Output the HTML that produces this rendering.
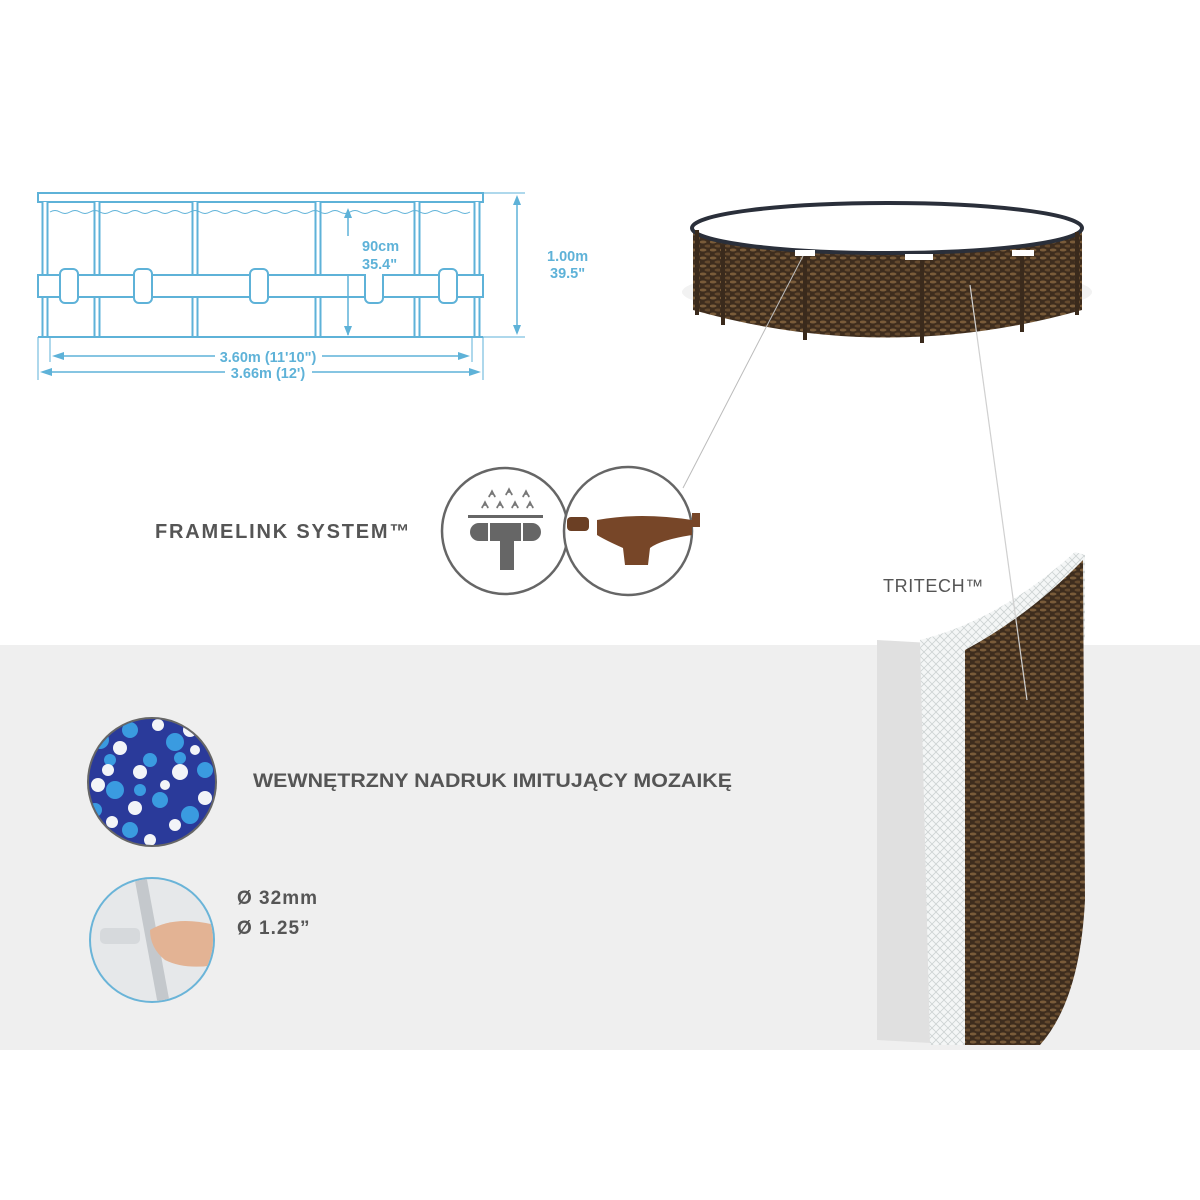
<!DOCTYPE html>
<html><head><meta charset="utf-8"><style>
html,body{margin:0;padding:0;background:#fff}
svg{display:block}
</style></head><body>
<svg width="1200" height="1200" viewBox="0 0 1200 1200" xmlns="http://www.w3.org/2000/svg">
<defs>
<pattern id="wick" width="10" height="8" patternUnits="userSpaceOnUse">
<rect width="10" height="8" fill="#3e2d1e"/>
<ellipse cx="3" cy="2" rx="3.5" ry="1.5" fill="#7a5c3a"/>
<ellipse cx="8" cy="6" rx="3.5" ry="1.5" fill="#654a2e"/>
</pattern>
<pattern id="mesh" width="8" height="8" patternUnits="userSpaceOnUse">
<rect width="8" height="8" fill="#f4f6f6"/>
<path d="M0 8L8 0M0 0L8 8" stroke="#cdd3d3" stroke-width="0.8"/>
</pattern>
<clipPath id="mc"><circle cx="152" cy="782" r="63"/></clipPath>
<clipPath id="hc"><circle cx="152" cy="940" r="61"/></clipPath>
</defs>

<rect x="0" y="645" width="1200" height="405" fill="#efefef"/>

<!-- technical drawing -->
<g stroke="#5eb2d8" stroke-width="2" fill="#fff">
<rect x="38" y="193" width="445" height="9"/>
<path d="M45 202V337M97 202V337M195 202V337M318 202V337M417 202V337M477 202V337" stroke-width="7"/>
<path d="M45 202V337M97 202V337M195 202V337M318 202V337M417 202V337M477 202V337" stroke="#fff" stroke-width="3"/>
<path d="M50 212q5 -3 10 0t10 0t10 0t10 0t10 0t10 0t10 0t10 0t10 0t10 0t10 0t10 0t10 0t10 0t10 0t10 0t10 0t10 0t10 0t10 0t10 0t10 0t10 0t10 0t10 0t10 0t10 0t10 0t10 0t10 0t10 0t10 0t10 0t10 0t10 0t10 0t10 0t10 0t10 0t10 0t10 0t10 0" fill="none" stroke-width="1"/>
<rect x="38" y="275" width="445" height="22"/>
<rect x="60" y="269" width="18" height="34" rx="5"/>
<rect x="134" y="269" width="18" height="34" rx="5"/>
<rect x="250" y="269" width="18" height="34" rx="5"/>
<rect x="365" y="269" width="18" height="34" rx="5"/>
<rect x="439" y="269" width="18" height="34" rx="5"/>
<path d="M38 337H483" />
<path d="M38 337V380M483 337V380M50 337V362M472 337V362M483 193H525M483 337H525" stroke-width="1" fill="none"/>
<path d="M517 198V332M348 210V335M55 356H215M322 356H467M45 372H225M312 372H476" stroke-width="1.5" fill="none"/>
</g>
<g fill="#5eb2d8">
<path d="M517 195l-4 10h8z M517 335l-4 -10h8z M348 208l-4 10h8z M348 336l-4 -10h8z M52 356l12 -4v8z M470 356l-12 -4v8z M40 372l12 -4v8z M481 372l-12 -4v8z"/>
</g>
<rect x="340" y="236" width="65" height="38" fill="#fff"/>
<rect x="540" y="240" width="65" height="38" fill="#fff"/>
<g font-family="Liberation Sans, sans-serif" font-weight="bold" fill="#5eb2d8" font-size="14.5">
<text x="362" y="251">90cm</text><text x="362" y="269">35.4"</text>
<text x="547" y="261">1.00m</text><text x="550" y="278">39.5"</text>
<text x="268" y="362" text-anchor="middle">3.60m (11'10")</text>
<text x="268" y="378" text-anchor="middle">3.66m (12')</text>
</g>

<!-- pool -->
<ellipse cx="887" cy="292" rx="205" ry="26" fill="#f2f2f2"/>
<path d="M693 230 L693 310 Q887 365 1082 310 L1082 230 Z" fill="url(#wick)"/>
<ellipse cx="887" cy="228" rx="195" ry="25" fill="#fff" stroke="#2a2f3a" stroke-width="4"/>
<g stroke="#3a2a1c" stroke-width="4">
<path d="M697 230V315M723 245V325M805 255V340M922 258V343M1022 252V332M1077 232V315"/>
</g>
<g fill="#fff">
<rect x="795" y="250" width="20" height="6"/><rect x="905" y="254" width="28" height="6"/><rect x="1012" y="250" width="22" height="6"/>
</g>
<path d="M803 256L683 488" stroke="#bbb" stroke-width="1"/>

<!-- framelink circles -->
<circle cx="505" cy="531" r="63" fill="#fff" stroke="#666" stroke-width="2.5"/>
<circle cx="628" cy="531" r="64" fill="#fff" stroke="#666" stroke-width="2.5"/>
<rect x="468" y="515" width="75" height="3" fill="#666"/>
<rect x="470" y="523" width="71" height="18" rx="9" fill="#666"/>
<line x1="489" y1="523" x2="489" y2="541" stroke="#fff" stroke-width="2"/>
<line x1="522" y1="523" x2="522" y2="541" stroke="#fff" stroke-width="2"/>
<rect x="500" y="541" width="14" height="29" fill="#666"/>
<g fill="none" stroke="#777" stroke-width="1.6">
<path d="M482 508a3 3 0 1 1 6 0l-3 -6z M497 508a3 3 0 1 1 6 0l-3 -6z M512 508a3 3 0 1 1 6 0l-3 -6z M527 508a3 3 0 1 1 6 0l-3 -6z"/>
<path d="M489 497a3 3 0 1 1 6 0l-3 -6z M506 495a3 3 0 1 1 6 0l-3 -6z M523 497a3 3 0 1 1 6 0l-3 -6z"/>
</g>
<rect x="567" y="517" width="22" height="14" rx="4" fill="#6b3f24"/>
<path d="M597 520 Q640 512 692 520 L692 535 Q660 540 650 548 L648 565 L625 565 L623 548 Q605 540 597 535Z" fill="#774628"/>
<path d="M700 520 L692 520" stroke="#774628" stroke-width="14"/>

<!-- mosaic -->
<circle cx="152" cy="782" r="65" fill="#666"/>
<g clip-path="url(#mc)">
<rect x="85" y="715" width="135" height="135" fill="#2a3a9a"/>
<g fill="#3a9be0"><circle cx="100" cy="740" r="9"/><circle cx="130" cy="730" r="8"/><circle cx="175" cy="742" r="9"/><circle cx="205" cy="770" r="8"/><circle cx="115" cy="790" r="9"/><circle cx="160" cy="800" r="8"/><circle cx="190" cy="815" r="9"/><circle cx="130" cy="830" r="8"/><circle cx="95" cy="810" r="7"/><circle cx="150" cy="760" r="7"/><circle cx="205" cy="830" r="7"/><circle cx="140" cy="790" r="6"/><circle cx="180" cy="758" r="6"/><circle cx="110" cy="760" r="6"/></g>
<g fill="#f2f4f8"><circle cx="120" cy="748" r="7"/><circle cx="158" cy="725" r="6"/><circle cx="190" cy="730" r="7"/><circle cx="140" cy="772" r="7"/><circle cx="180" cy="772" r="8"/><circle cx="108" cy="770" r="6"/><circle cx="98" cy="785" r="7"/><circle cx="135" cy="808" r="7"/><circle cx="175" cy="825" r="6"/><circle cx="150" cy="840" r="6"/><circle cx="205" cy="798" r="7"/><circle cx="112" cy="822" r="6"/><circle cx="165" cy="785" r="5"/><circle cx="195" cy="750" r="5"/></g>
</g>

<!-- hand circle -->
<circle cx="152" cy="940" r="63" fill="#6ab4d8"/>
<g clip-path="url(#hc)">
<rect x="85" y="875" width="135" height="135" fill="#e6e8ea"/>
<path d="M140 875 L165 1010" stroke="#c4c8cc" stroke-width="12"/>
<rect x="100" y="928" width="40" height="16" rx="5" fill="#d6d9dc"/>
<path d="M150 930 Q175 915 215 925 L215 965 Q185 970 165 960 Q150 948 150 930Z" fill="#e3b394"/>
</g>

<!-- tritech panel -->
<path d="M877 640 L965 645 L965 1045 L877 1040 Z" fill="#e0e0e0"/>
<path d="M920 640 Q1000 620 1075 552 L1085 555 L1085 640 L965 650 L965 1045 L930 1045 Z" fill="url(#mesh)"/>
<path d="M965 650 Q1030 615 1083 560 L1085 900 Q1080 1000 1040 1045 L965 1045 Z" fill="url(#wick)"/>
<path d="M970 285L1027 700" stroke="#d0d0d0" stroke-width="1.2"/>

<!-- texts -->
<g font-family="Liberation Sans, sans-serif" fill="#555">
<text x="155" y="538" font-size="20" font-weight="bold" letter-spacing="1.8">FRAMELINK SYSTEM™</text>
<text x="883" y="592" font-size="18" letter-spacing="0.6">TRITECH™</text>
<text x="253" y="787" font-size="19" font-weight="bold" textLength="479" lengthAdjust="spacingAndGlyphs">WEWNĘTRZNY NADRUK IMITUJĄCY MOZAIKĘ</text>
<text x="237" y="904" font-size="19" font-weight="bold" letter-spacing="1">Ø 32mm</text>
<text x="237" y="934" font-size="19" font-weight="bold" letter-spacing="1">Ø 1.25”</text>
</g>
</svg>
</body></html>
